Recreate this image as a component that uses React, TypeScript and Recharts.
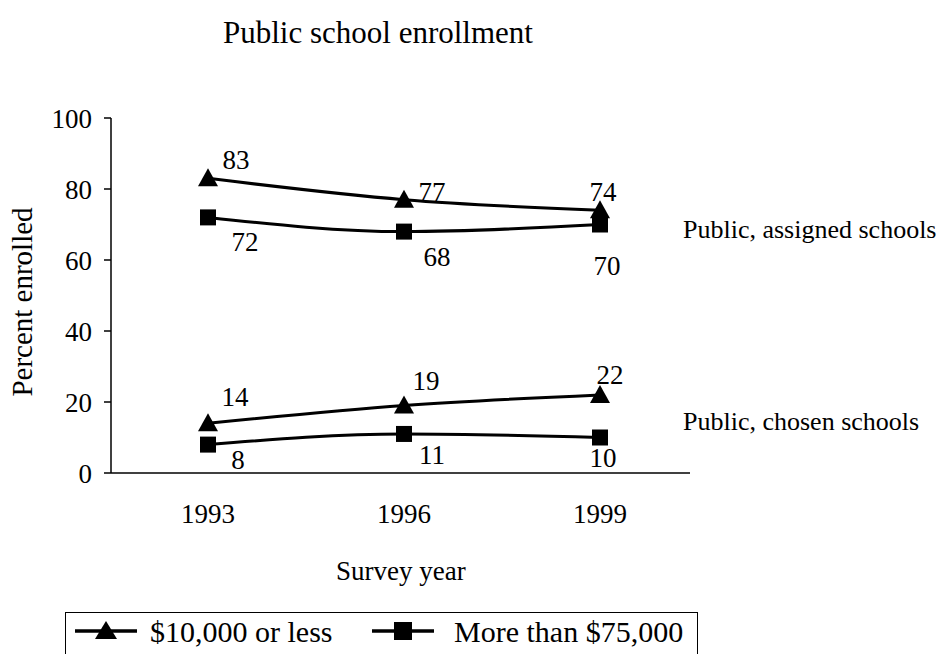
import React from 'react';
import { LineChart, Line, XAxis, YAxis, LabelList } from 'recharts';

const years = ['1993', '1996', '1999'];
const lowAssigned = [83, 77, 74];
const highAssigned = [72, 68, 70];
const lowChosen = [14, 19, 22];
const highChosen = [8, 11, 10];
const yTicks = [0, 20, 40, 60, 80, 100];

// label offsets (dx, dy) per point
const lowAssignedOff = [[28, -18], [28, -8], [3, -18]];
const highAssignedOff = [[37, 25], [33, 25], [7, 41]];
const lowChosenOff = [[27, -26], [22, -25], [10, -20]];
const highChosenOff = [[30, 15], [28, 21], [3, 20]];

const data = years.map((year, i) => ({
  year,
  lowAssigned: lowAssigned[i],
  highAssigned: highAssigned[i],
  lowChosen: lowChosen[i],
  highChosen: highChosen[i],
}));

const FONT = '"Liberation Serif", "Times New Roman", Times, serif';
const FS = 27;

const Triangle = (props: any) => {
  const { cx, cy } = props;
  if (cx == null || cy == null) return null;
  return <polygon points={`${cx},${cy - 10} ${cx + 10},${cy + 8} ${cx - 10},${cy + 8}`} fill="#000" />;
};

const Square = (props: any) => {
  const { cx, cy } = props;
  if (cx == null || cy == null) return null;
  return <rect x={cx - 8} y={cy - 8} width={16} height={16} fill="#000" />;
};

const makeLabel = (offsets: number[][]) => (props: any) => {
  const { x, y, value, index } = props;
  const [dx, dy] = offsets[index] || [0, 0];
  return (
    <text x={x + dx} y={y + dy} textAnchor="middle" dominantBaseline="central"
      style={{ fontFamily: FONT, fontSize: FS }} fill="#000">
      {value}
    </text>
  );
};

const textStyle: React.CSSProperties = {
  position: 'absolute', fontFamily: FONT, fontSize: FS, color: '#000', whiteSpace: 'nowrap', lineHeight: 1,
};

const LegendIcon = ({ square }: { square?: boolean }) => (
  <svg width={62} height={22} style={{ display: 'block' }}>
    <line x1={0} y1={11} x2={62} y2={11} stroke="#000" strokeWidth={3.5} />
    {square
      ? <rect x={22} y={2} width={18} height={18} fill="#000" />
      : <polygon points="31,1 42,19 20,19" fill="#000" />}
  </svg>
);

export default function App() {
  return (
    <div style={{ position: 'relative', width: 941, height: 646, background: '#fff', overflow: 'visible' }}>
      <style>{`.recharts-wrapper text { font-family: ${FONT}; }`}</style>
      <LineChart width={941} height={646} data={data}
        margin={{ top: 110, right: 259, left: 0, bottom: 151 }}>
        <XAxis dataKey="year" padding={{ left: 97, right: 90 }} stroke="#000" strokeWidth={1.5}
          tickLine={false} tickSize={0} tickMargin={31} height={30}
          tick={{ fill: '#000', fontFamily: FONT, fontSize: FS }} />
        <YAxis domain={[0, 100]} ticks={yTicks} width={103} stroke="#000" strokeWidth={1.5}
          tickSize={7} tickMargin={12} interval={0}
          tick={{ fill: '#000', fontFamily: FONT, fontSize: FS }} />
        <Line dataKey="lowAssigned" type="monotone" stroke="#000" strokeWidth={3}
          dot={<Triangle />} activeDot={false} isAnimationActive={false}>
          <LabelList dataKey="lowAssigned" content={makeLabel(lowAssignedOff)} />
        </Line>
        <Line dataKey="highAssigned" type="monotone" stroke="#000" strokeWidth={3}
          dot={<Square />} activeDot={false} isAnimationActive={false}>
          <LabelList dataKey="highAssigned" content={makeLabel(highAssignedOff)} />
        </Line>
        <Line dataKey="lowChosen" type="monotone" stroke="#000" strokeWidth={3}
          dot={<Triangle />} activeDot={false} isAnimationActive={false}>
          <LabelList dataKey="lowChosen" content={makeLabel(lowChosenOff)} />
        </Line>
        <Line dataKey="highChosen" type="monotone" stroke="#000" strokeWidth={3}
          dot={<Square />} activeDot={false} isAnimationActive={false}>
          <LabelList dataKey="highChosen" content={makeLabel(highChosenOff)} />
        </Line>
      </LineChart>

      <div style={{ ...textStyle, fontSize: 31, left: 215, top: 9 }}>Public school enrollment</div>
      <div style={{ ...textStyle, fontSize: 26, left: 675, top: 209 }}>Public, assigned schools</div>
      <div style={{ ...textStyle, fontSize: 26, left: 675, top: 401 }}>Public, chosen schools</div>
      <div style={{ ...textStyle, left: 328, top: 550 }}>Survey year</div>
      <div style={{ ...textStyle, fontSize: 29, left: 14, top: 294, transform: 'translate(-50%, -50%) rotate(-90deg)' }}>
        Percent enrolled
      </div>

      <div style={{
        position: 'absolute', left: 57, top: 604, width: 633, height: 56,
        border: '1.5px solid #000', boxSizing: 'border-box',
        fontFamily: FONT, fontSize: 30,
      }}>
        <div style={{ position: 'absolute', left: 9, top: 7 }}><LegendIcon /></div>
        <span style={{ ...textStyle, fontSize: 30, left: 84, top: 4 }}>$10,000 or less</span>
        <div style={{ position: 'absolute', left: 306, top: 7 }}><LegendIcon square /></div>
        <span style={{ ...textStyle, fontSize: 30, left: 388, top: 4 }}>More than $75,000</span>
      </div>
    </div>
  );
}
